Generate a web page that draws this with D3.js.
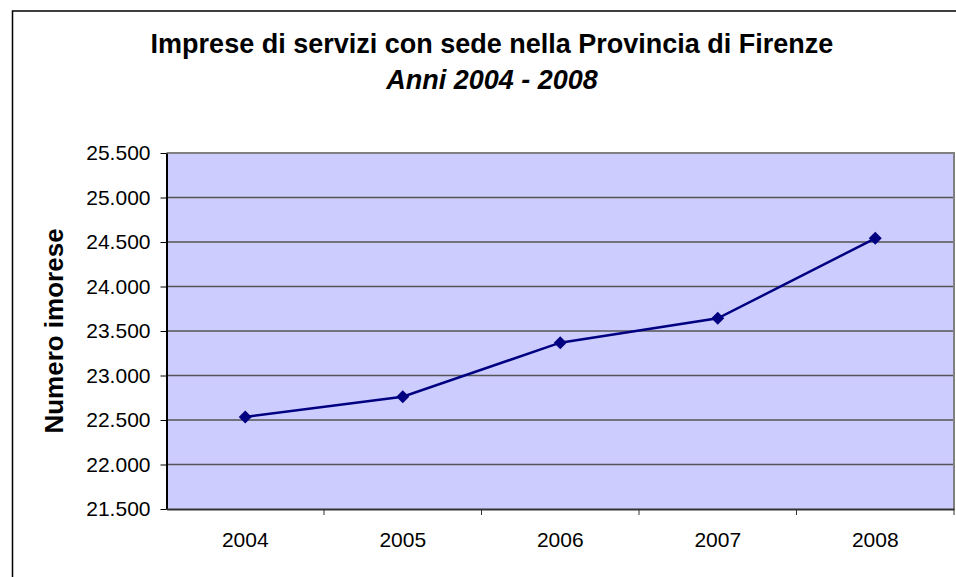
<!DOCTYPE html>
<html>
<head>
<meta charset="utf-8">
<script src="https://cdn.jsdelivr.net/npm/d3@7"></script>
<style>
  body { margin: 0; background: #fff; }
  svg { display: block; font-family: "Liberation Sans", Arial, sans-serif; }
</style>
</head>
<body>
<svg id="chart" width="956" height="577"></svg>
<script>
// dati
var anni = ['2004', '2005', '2006', '2007', '2008'];
var imprese = [22534, 22762, 23369, 23643, 24541];
var yTicks = [21500, 22000, 22500, 23000, 23500, 24000, 24500, 25000, 25500];
var titolo = 'Imprese di servizi con sede nella Provincia di Firenze';
var sottotitolo = 'Anni 2004 - 2008';
var etichettaY = 'Numero imorese';

var svg = d3.select('#chart');

// bordo esterno
svg.append('rect')
  .attr('x', 12.5).attr('y', 11)
  .attr('width', 960).attr('height', 600)
  .attr('fill', '#fff').attr('stroke', '#000').attr('stroke-width', 1.5);

// area grafico
var pLeft = 166.5, pRight = 954, pTop = 153, pBottom = 509;

var x = d3.scaleBand().domain(anni).range([pLeft, pRight]);
var y = d3.scaleLinear().domain([21500, 25500]).range([pBottom, pTop]);

svg.append('rect')
  .attr('x', pLeft).attr('y', pTop)
  .attr('width', pRight - pLeft).attr('height', pBottom - pTop)
  .attr('fill', '#ccccff');

// griglia
svg.append('g').selectAll('line')
  .data(yTicks.slice(1, -1))
  .enter().append('line')
  .attr('x1', pLeft).attr('x2', pRight)
  .attr('y1', function(d){ return y(d); })
  .attr('y2', function(d){ return y(d); })
  .attr('stroke', '#555').attr('stroke-width', 1.5);

// bordo superiore e destro
svg.append('path')
  .attr('d', 'M' + pLeft + ',' + pTop + 'H' + pRight + 'V' + pBottom)
  .attr('fill', 'none').attr('stroke', '#808080').attr('stroke-width', 2);

// asse y
var yAxis = svg.append('g')
  .attr('transform', 'translate(' + pLeft + ',0)')
  .call(d3.axisLeft(y).tickValues(yTicks).tickSizeInner(6).tickSizeOuter(0).tickPadding(10)
    .tickFormat(function(d){ return d3.format(',')(d).replace(/,/g, '.'); }));
yAxis.select('.domain').attr('stroke', '#000').attr('stroke-width', 2);
yAxis.selectAll('.tick line').attr('stroke', '#000').attr('stroke-width', 1);
yAxis.selectAll('text').attr('font-size', 21).attr('fill', '#000')
  .attr('font-family', '"Liberation Sans", Arial, sans-serif');

// asse x
var xAxis = svg.append('g')
  .attr('transform', 'translate(0,' + pBottom + ')')
  .call(d3.axisBottom(x).tickSize(0).tickPadding(23));
xAxis.select('.domain').attr('stroke', '#333').attr('stroke-width', 2);
xAxis.selectAll('text').attr('font-size', 21).attr('fill', '#000')
  .attr('font-family', '"Liberation Sans", Arial, sans-serif');

// tacche tra le categorie
svg.append('g').selectAll('line')
  .data(anni.slice(1).concat(['fine']))
  .enter().append('line')
  .attr('x1', function(d){ return d == 'fine' ? pRight : x(d); })
  .attr('x2', function(d){ return d == 'fine' ? pRight : x(d); })
  .attr('y1', pBottom).attr('y2', pBottom + 6)
  .attr('stroke', '#333').attr('stroke-width', 1);

// linea
var line = d3.line()
  .x(function(d, i){ return x(anni[i]) + x.bandwidth() / 2; })
  .y(function(d){ return y(d); });

svg.append('path')
  .datum(imprese)
  .attr('d', line)
  .attr('fill', 'none')
  .attr('stroke', '#000080')
  .attr('stroke-width', 2.5);

// marcatori a rombo
svg.append('g').selectAll('path')
  .data(imprese)
  .enter().append('path')
  .attr('d', d3.symbol().type(d3.symbolSquare).size(85))
  .attr('transform', function(d, i){
    return 'translate(' + (x(anni[i]) + x.bandwidth() / 2) + ',' + y(d) + ') rotate(45)';
  })
  .attr('fill', '#000080');

// titoli
svg.append('text')
  .attr('x', 492).attr('y', 53)
  .attr('text-anchor', 'middle')
  .attr('font-size', 27).attr('font-weight', 'bold')
  .text(titolo);

svg.append('text')
  .attr('x', 492).attr('y', 89)
  .attr('text-anchor', 'middle')
  .attr('font-size', 27).attr('font-weight', 'bold').attr('font-style', 'italic')
  .text(sottotitolo);

svg.append('text')
  .attr('transform', 'translate(63,331) rotate(-90)')
  .attr('text-anchor', 'middle')
  .attr('font-size', 26).attr('font-weight', 'bold')
  .text(etichettaY);
</script>
</body>
</html>
